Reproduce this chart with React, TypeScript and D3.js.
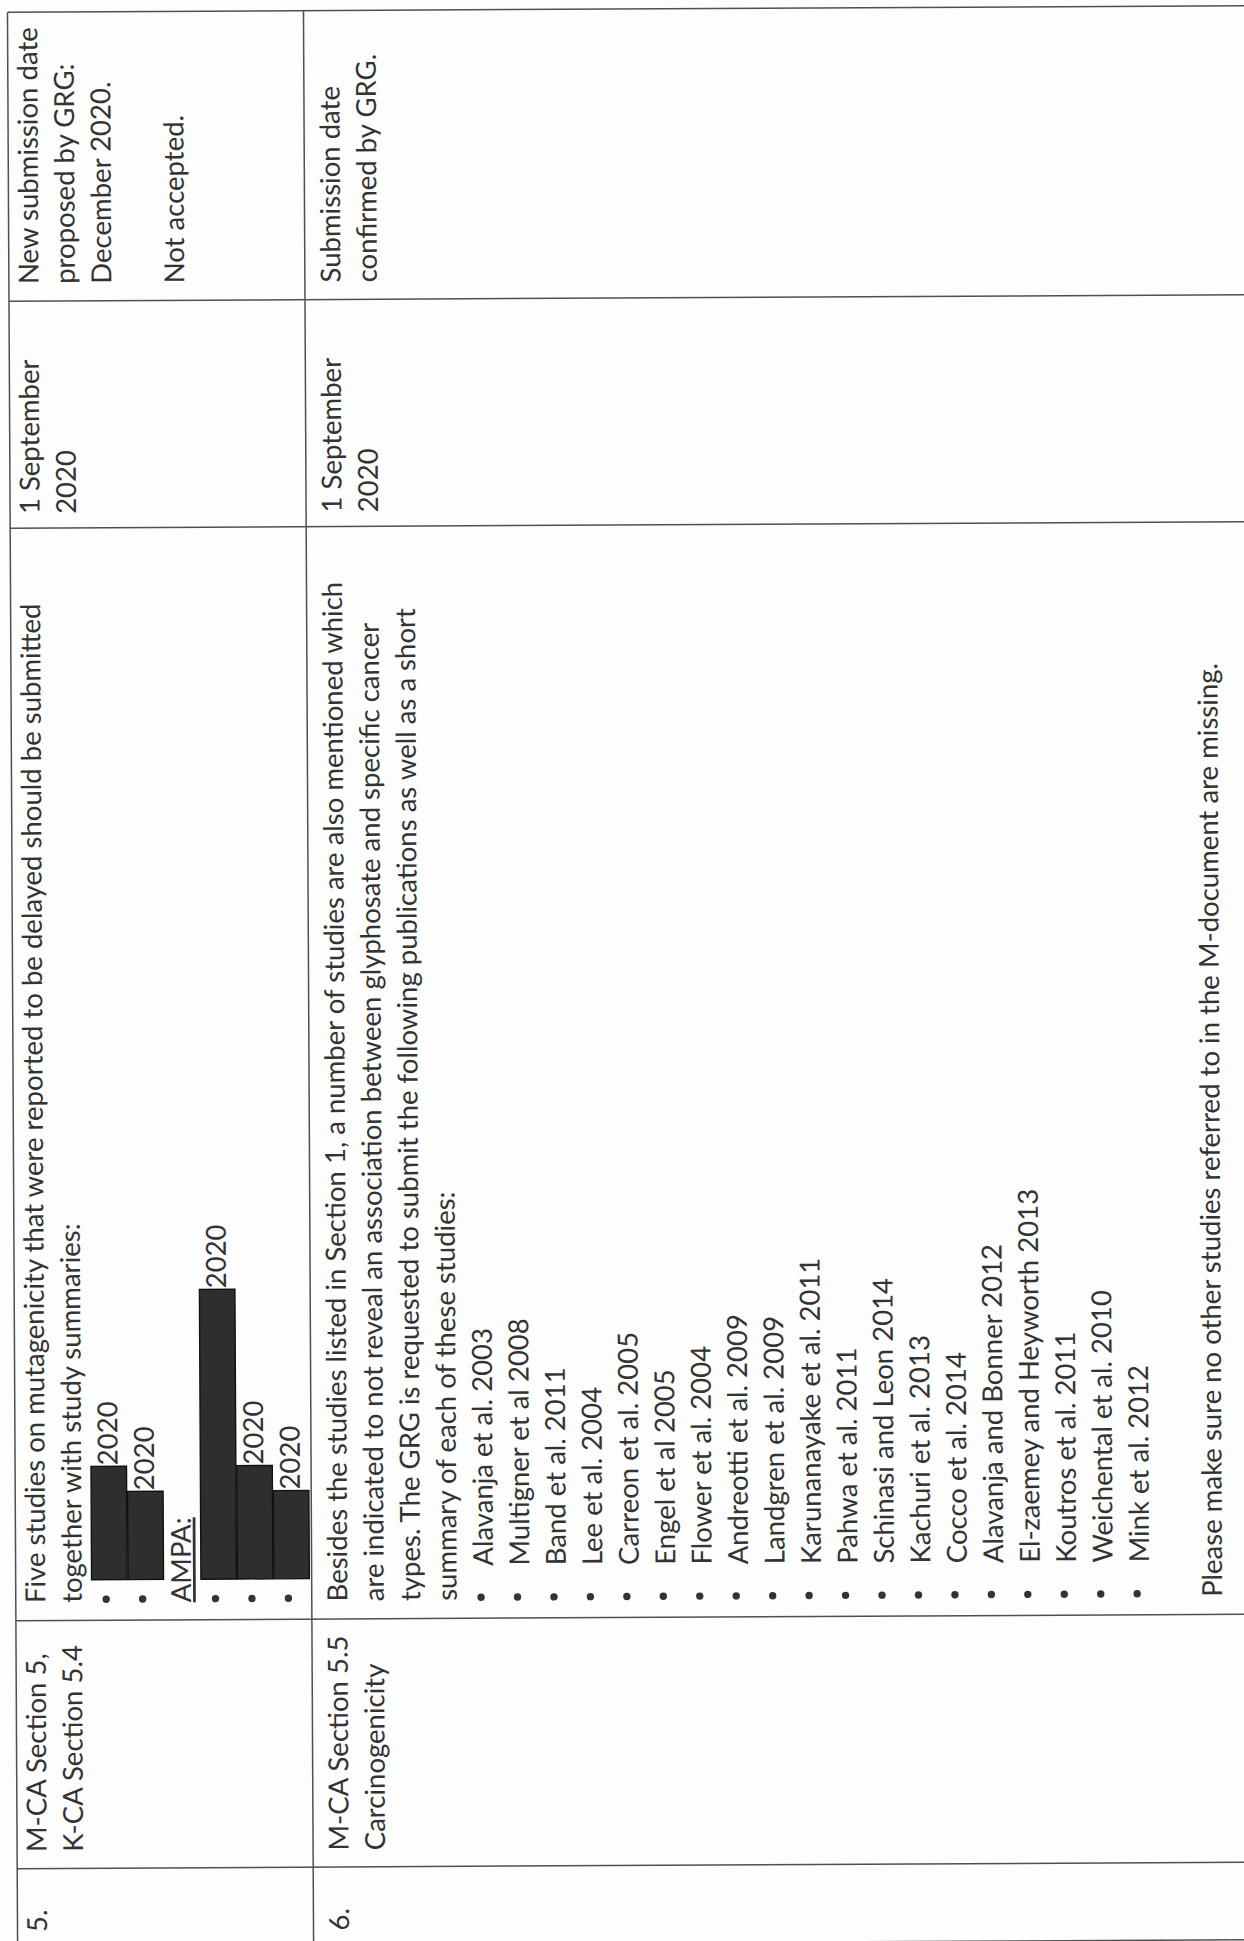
import { useLayoutEffect, useRef, useState } from 'react'
import * as d3 from 'd3'

// ---- table content ----
const rowNumbers = ['5.', '6.']

const sectionLines = [
  ['M-CA Section 5,', 'K-CA Section 5.4'],
  ['M-CA Section 5.5', 'Carcinogenicity'],
]

const mutagenicityIntro = [
  'Five studies on mutagenicity that were reported to be delayed should be submitted',
  'together with study summaries:',
]

// blacked-out study titles: hidden length (characters) and the year left readable
const redactedChars = [9, 7, 23, 9, 7]
const redactedYears = ['2020', '2020', '2020', '2020', '2020']
const ampaLabel = 'AMPA:'
const ampaFrom = 2 // items from this index on are listed under AMPA

const carcinogenicityIntro = [
  'Besides the studies listed in Section 1, a number of studies are also mentioned which',
  'are indicated to not reveal an association between glyphosate and specific cancer',
  'types. The GRG is requested to submit the following publications as well as a short',
  'summary of each of these studies:',
]

const publications = [
  'Alavanja et al. 2003',
  'Multigner et al 2008',
  'Band et al. 2011',
  'Lee et al. 2004',
  'Carreon et al. 2005',
  'Engel et al 2005',
  'Flower et al. 2004',
  'Andreotti et al. 2009',
  'Landgren et al. 2009',
  'Karunanayake et al. 2011',
  'Pahwa et al. 2011',
  'Schinasi and Leon 2014',
  'Kachuri et al. 2013',
  'Cocco et al. 2014',
  'Alavanja and Bonner 2012',
  'El-zaemey and Heyworth 2013',
  'Koutros et al. 2011',
  'Weichental et al. 2010',
  'Mink et al. 2012',
]

const closingNote = 'Please make sure no other studies referred to in the M-document are missing.'

const dueDates = [
  ['1 September', '2020'],
  ['1 September', '2020'],
]

const commentLines = [
  ['New submission date', 'proposed by GRG:', 'December 2020.', '', 'Not accepted.'],
  ['Submission date', 'confirmed by GRG.'],
]

// ---- page geometry (document frame: u runs along the text, v across it) ----
const W = 1244
const H = 1941
const TILT = -0.3
const colEdges = [-2, 75.5, 323.5, 1416, 1643, 1932] // No. | section | description | date | comments
const colPad = [14, 16.5, 17.5, 14, 17]
const rowEdges = [12.5, 308.5]
const rowEnd = 1300
const firstBaseline = [29.5, 35.5]
const LINE = 36.45
const TARGET_LEN = 1000
const INK = '#333'

export default function App() {
  const refLine = useRef<SVGTextElement>(null)
  const [fontSize, setFontSize] = useState(28.5)

  useLayoutEffect(() => {
    const fit = () => {
      if (!refLine.current) return
      const len = refLine.current.getComputedTextLength()
      if (!len) return
      const next = (fontSize * TARGET_LEN) / len
      if (Math.abs(next - fontSize) > 0.05) setFontSize(next)
    }
    fit()
    if (document.fonts) document.fonts.ready.then(fit)
  }, [fontSize])

  const lineScale = (row: number) =>
    d3.scaleLinear().domain([0, 1]).range([rowEdges[row] + firstBaseline[row], rowEdges[row] + firstBaseline[row] + LINE])
  const row5 = lineScale(0)
  const row6 = lineScale(1)
  const colStart = (c: number) => colEdges[c] + colPad[c]
  const hidden = d3.scaleLinear().domain([0, 1]).range([0, 12.6])

  const bulletU = colStart(2) + 3.5
  const itemU = colStart(2) + 35
  const redactU = colStart(2) + 23

  const textProps = { fontSize, fill: INK, fontFamily: 'Lato, "Open Sans", sans-serif' }

  // line index of each row-5 entry
  const row5Items = redactedChars.map((_, i) => 2 + i + (i >= ampaFrom ? 1 : 0))

  return (
    <div>
      <svg width={W} height={H} style={{ position: 'absolute', left: 0, top: 0, background: '#fff' }}>
        <rect width={W} height={H} fill="#fdfdfd" />
        <g transform={`rotate(${TILT}, ${W / 2}, ${H / 2})`}>
          <g transform={`translate(0,${H}) rotate(-90)`}>
            {/* grid */}
            <g stroke="#505050" strokeWidth={1.5}>
              {colEdges.map((u, i) => (
                <line key={`c${i}`} x1={u} x2={u} y1={rowEdges[0]} y2={rowEnd} />
              ))}
              {rowEdges.map((v, i) => (
                <line key={`r${i}`} x1={colEdges[0]} x2={colEdges[colEdges.length - 1]} y1={v} y2={v} />
              ))}
            </g>

            {/* numbers and sections */}
            {rowNumbers.map((n, r) => (
              <text key={n} x={colStart(0)} y={lineScale(r)(0)} {...textProps}>{n}</text>
            ))}
            {sectionLines.map((lines, r) =>
              lines.map((s, i) => (
                <text key={`s${r}${i}`} x={colStart(1)} y={lineScale(r)(i)} {...textProps}>{s}</text>
              ))
            )}

            {/* row 5 description */}
            {mutagenicityIntro.map((s, i) => (
              <text key={`m${i}`} ref={i === 0 ? refLine : undefined} x={colStart(2)} y={row5(i)} {...textProps}>{s}</text>
            ))}
            <text x={colStart(2)} y={row5(2 + ampaFrom)} {...textProps} style={{ textDecoration: 'underline' }}>{ampaLabel}</text>
            {redactedChars.map((c, i) => {
              const b = row5(row5Items[i])
              const w = hidden(c)
              return (
                <g key={`red${i}`}>
                  <circle cx={bulletU} cy={b - 12} r={3.7} fill="#333" />
                  <rect x={redactU} y={b - 26.5} width={w} height={35.5} fill="#2e2e2e" stroke="#111" strokeWidth={1.4} />
                  <text x={redactU + w + 1} y={b} {...textProps}>{redactedYears[i]}</text>
                </g>
              )
            })}

            {/* row 6 description */}
            {carcinogenicityIntro.map((s, i) => (
              <text key={`c${i}`} x={colStart(2)} y={row6(i)} {...textProps}>{s}</text>
            ))}
            {publications.map((p, i) => (
              <g key={p}>
                <circle cx={bulletU} cy={row6(4 + i) - 12} r={3.7} fill="#333" />
                <text x={itemU} y={row6(4 + i)} {...textProps}>{p}</text>
              </g>
            ))}
            <text x={colStart(2)} y={row6(carcinogenicityIntro.length + publications.length + 1)} {...textProps}>{closingNote}</text>

            {/* due dates and comments */}
            {dueDates.map((lines, r) =>
              lines.map((s, i) => (
                <text key={`d${r}${i}`} x={colStart(3)} y={lineScale(r)(i)} {...textProps}>{s}</text>
              ))
            )}
            {commentLines.map((lines, r) =>
              lines.map((s, i) => (
                <text key={`k${r}${i}`} x={colStart(4)} y={lineScale(r)(i)} {...textProps}>{s}</text>
              ))
            )}
          </g>
        </g>
      </svg>
    </div>
  )
}
